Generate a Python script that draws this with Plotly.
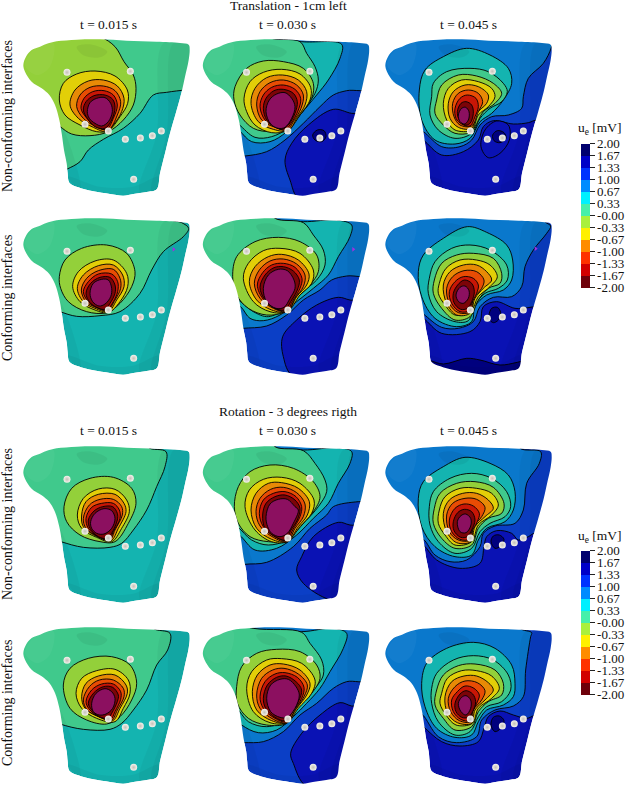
import plotly.graph_objects as go

# image layout
WIDTH = 630
HEIGHT = 789
COL_WINDOWS = [(15, 197), (197, 378), (378, 560)]
ROW_WINDOWS = [(30, 205), (205, 385), (440, 608), (608, 789)]
TORSO_DX = [0, 179.5, 362]
TORSO_DY = [0, 179, 407, 588]

# band colours seen on the torso surface, 0 = highest potential, 12 = below -2
SURFACE_COLORS = ["#00007e", "#0a12b4", "#0b3fc6", "#0a78cc", "#14b4b0", "#40c98c", "#93d03a",
                  "#e2cf08", "#e88a06", "#e84c04", "#c81606", "#7c0408", "#8c1060"]

# colour bar
BAR_COLORS = ["#6e000a", "#d20000", "#ff3200", "#ff8c00", "#fff000", "#aaf03c",
              "#46f0aa", "#00f0ff", "#008cff", "#0032ff", "#0000c8", "#00006e"]
BAR_TICKS = [2.0, 1.67, 1.33, 1.0, 0.67, 0.33, 0.0, -0.33, -0.67, -1.0, -1.33, -1.67, -2.0]
BAR_LABELS = ["2.00", "1.67", "1.33", "1.00", "0.67", "0.33", "-0.00",
              "-0.33", "-0.67", "-1.00", "-1.33", "-1.67", "-2.00"]

COL_TITLES = ["t = 0.015 s", "t = 0.030 s", "t = 0.045 s"]
ROW_TITLES = ["Non-conforming interfaces", "Conforming interfaces",
              "Non-conforming interfaces", "Conforming interfaces"]

TORSO = [(170, 124), (230, 119), (300, 118), (380, 122), (470, 125), (540, 129), (566, 134), (569, 150),
         (566, 180), (555, 230), (545, 275), (530, 330), (510, 400), (495, 460), (480, 520), (470, 568),
         (440, 576), (400, 582), (370, 587), (330, 582), (280, 574), (235, 562), (208, 548), (203, 520),
         (200, 490), (192, 450), (185, 400), (178, 360), (165, 315), (148, 285), (125, 265), (95, 245),
         (75, 215), (70, 195), (78, 170), (95, 150), (120, 140), (145, 130)]

ELECTRODE_X = [201, 391, 255, 325, 376, 421, 457, 484, 401]
ELECTRODE_Y = [217, 214, 373, 393, 418, 414, 407, 393, 538]

# soft light and dark patches on the body, stacked to fade out
SHADES = [
    ("rgba(0,0,0,0.035)", [(490, 130), (575, 130), (575, 300), (490, 580), (420, 578), (470, 400)]),
    ("rgba(0,0,0,0.035)", [(520, 130), (575, 130), (575, 300), (490, 580), (455, 578), (500, 400)]),
    ("rgba(0,0,0,0.04)", [(175, 360), (215, 450), (240, 575), (195, 550)]),
    ("rgba(0,0,0,0.05)", [(230, 140), (270, 133), (322, 155), (300, 172), (250, 166)]),
    ("rgba(0,0,0,0.04)", [(205, 530), (300, 560), (400, 560), (478, 530), (472, 575), (370, 592), (250, 575)]),
    ("rgba(255,255,255,0.04)", [(75, 195), (100, 150), (160, 128), (150, 200), (110, 225)]),
]

# contours per panel in zoomed image units: (band, outline)
NC_015_T = [
    (5, [(200, 508), (240, 485), (265, 450), (310, 418), (370, 385), (420, 340), (460, 285), (500, 277), (560, 270), (620, 270), (620, 90), (40, 90), (40, 400), (150, 530)]),
    (6, [(300, 110), (345, 140), (372, 185), (400, 225), (408, 265), (400, 315), (370, 360), (325, 395), (270, 407), (215, 402), (178, 378), (120, 330), (40, 300), (40, 90), (200, 90)]),
    (7, [(178, 300), (190, 250), (230, 222), (285, 213), (345, 228), (382, 270), (383, 310), (360, 350), (325, 392), (290, 395), (240, 375), (195, 345)]),
    (8, [(210, 315), (225, 270), (265, 243), (310, 240), (352, 258), (372, 295), (365, 335), (340, 375), (320, 395), (280, 382), (235, 355)]),
    (9, [(230, 320), (240, 285), (270, 262), (310, 258), (345, 272), (362, 305), (352, 345), (325, 390), (285, 378), (250, 355)]),
    (10, [(243, 325), (252, 295), (278, 275), (312, 272), (340, 285), (352, 315), (340, 355), (320, 388), (285, 378), (258, 352)]),
    (11, [(250, 330), (258, 305), (282, 287), (315, 285), (338, 298), (345, 322), (335, 360), (315, 385), (285, 380), (262, 355)]),
    (12, [(262, 335), (270, 308), (290, 295), (315, 293), (332, 310), (337, 335), (325, 365), (305, 378), (285, 370), (268, 355)]),
]
NC_030_T = [
    (1, [(300, 600), (270, 540), (255, 480), (275, 430), (325, 375), (400, 328), (455, 340), (520, 345), (520, 620)]),
    (0, [(338, 405), (352, 390), (372, 392), (378, 410), (365, 425), (345, 420)]),
    (3, [(100, 470), (135, 468), (200, 455), (255, 420), (310, 370), (360, 320), (400, 285), (440, 272), (520, 262), (540, 60), (-20, 60), (-20, 400)]),
    (4, [(205, 110), (305, 125), (425, 133), (420, 175), (385, 240), (350, 285), (300, 345), (260, 395), (210, 425), (155, 425), (118, 392), (60, 340), (-20, 300), (-20, 60), (200, 60)]),
    (5, [(205, 110), (300, 125), (320, 160), (345, 200), (355, 240), (345, 280), (300, 340), (262, 385), (215, 410), (165, 412), (115, 372), (60, 330), (-20, 300), (-20, 60), (200, 60)]),
    (6, [(105, 260), (140, 205), (190, 183), (250, 185), (310, 205), (340, 250), (335, 295), (300, 345), (265, 385), (215, 395), (160, 385), (120, 345), (102, 300)]),
    (7, [(132, 295), (150, 245), (190, 217), (245, 208), (300, 222), (332, 262), (330, 300), (300, 345), (265, 390), (215, 398), (165, 375), (140, 335)]),
    (8, [(153, 310), (165, 265), (200, 233), (248, 225), (295, 240), (320, 275), (315, 315), (290, 355), (265, 392), (220, 388), (175, 365)]),
    (9, [(170, 315), (180, 275), (210, 248), (250, 240), (290, 255), (310, 285), (303, 325), (280, 365), (262, 390), (220, 380), (185, 360)]),
    (10, [(180, 320), (190, 285), (215, 262), (250, 255), (285, 268), (302, 295), (295, 330), (272, 372), (255, 390), (222, 378), (195, 360)]),
    (11, [(190, 325), (198, 295), (222, 272), (250, 268), (280, 280), (292, 305), (285, 340), (265, 375), (245, 388), (222, 378), (200, 360)]),
    (12, [(198, 335), (208, 300), (230, 282), (255, 278), (275, 295), (285, 320), (275, 355), (255, 382), (235, 385), (212, 372)]),
]
NC_045_T = [
    (2, [(100, 400), (130, 420), (185, 465), (250, 455), (295, 420), (310, 380), (340, 362), (400, 372), (445, 368), (462, 362), (540, 340), (540, 60), (-20, 60), (-20, 380)]),
    (3, [(100, 380), (130, 395), (185, 440), (240, 440), (275, 420), (300, 375), (335, 350), (385, 345), (425, 325), (430, 290), (445, 235), (490, 190), (515, 140), (530, 60), (-20, 60), (-20, 360)]),
    (1, [(303, 440), (315, 390), (350, 363), (385, 375), (388, 420), (360, 460), (325, 473)]),
    (0, [(338, 405), (352, 392), (372, 398), (378, 415), (360, 428), (342, 422)]),
    (4, [(118, 270), (135, 210), (190, 170), (260, 145), (330, 165), (385, 205), (395, 250), (370, 300), (335, 340), (300, 365), (270, 415), (225, 432), (165, 420), (125, 360)]),
    (5, [(155, 290), (160, 250), (200, 215), (270, 205), (325, 215), (370, 250), (382, 275), (365, 305), (330, 325), (300, 355), (275, 400), (225, 415), (175, 390), (150, 345)]),
    (6, [(170, 300), (185, 255), (235, 225), (290, 228), (340, 250), (365, 280), (345, 310), (310, 335), (285, 380), (270, 398), (225, 400), (190, 375), (165, 340)]),
    (7, [(190, 310), (205, 265), (245, 240), (295, 245), (335, 265), (345, 290), (325, 320), (295, 345), (275, 390), (225, 390), (200, 360)]),
    (8, [(205, 310), (220, 275), (255, 255), (295, 260), (325, 285), (320, 310), (290, 340), (275, 385), (235, 382), (210, 355)]),
    (9, [(218, 310), (235, 280), (265, 270), (295, 280), (308, 305), (295, 335), (275, 378), (240, 375), (222, 350)]),
    (10, [(225, 325), (240, 295), (262, 285), (288, 295), (295, 320), (285, 350), (270, 378), (245, 372), (228, 355)]),
    (11, [(232, 335), (243, 310), (258, 305), (275, 315), (280, 340), (270, 370), (255, 375), (238, 360)]),
    (12, [(235, 345), (245, 325), (257, 322), (267, 335), (265, 360), (253, 372), (240, 365)]),
]
C_015_T = [
    (5, [(140, 320), (180, 335), (230, 349), (300, 347), (360, 335), (420, 280), (455, 210), (490, 155), (550, 110), (566, 85), (545, 68), (505, 55), (505, 20), (30, 20), (30, 200)]),
    (6, [(178, 230), (195, 180), (245, 145), (320, 135), (380, 160), (405, 215), (395, 260), (360, 310), (320, 338), (260, 335), (205, 305), (182, 265)]),
    (7, [(218, 260), (235, 215), (285, 183), (340, 180), (380, 220), (383, 260), (360, 305), (325, 338), (285, 330), (240, 305)]),
    (8, [(232, 265), (250, 225), (295, 197), (340, 195), (368, 225), (372, 260), (350, 300), (325, 335), (285, 325), (250, 305)]),
    (9, [(244, 270), (260, 235), (295, 212), (340, 208), (360, 235), (362, 265), (345, 300), (322, 332), (288, 322), (258, 305)]),
    (10, [(250, 275), (265, 245), (295, 222), (335, 222), (353, 245), (353, 275), (340, 305), (320, 330), (290, 322), (265, 305)]),
    (11, [(258, 280), (272, 250), (300, 232), (330, 232), (345, 255), (345, 280), (330, 310), (315, 328), (290, 322), (270, 308)]),
    (12, [(270, 280), (280, 250), (305, 238), (325, 240), (335, 265), (332, 290), (315, 312), (297, 318), (278, 305)]),
]
C_030_T = [
    (1, [(280, 530), (250, 470), (248, 410), (290, 360), (350, 315), (415, 292), (450, 300), (520, 310), (520, 560)]),
    (3, [(100, 390), (130, 385), (200, 378), (260, 345), (310, 300), (360, 270), (395, 240), (440, 228), (530, 222), (540, 20), (-20, 20), (-20, 300)]),
    (4, [(225, 55), (310, 65), (410, 60), (455, 75), (450, 110), (415, 170), (385, 225), (340, 265), (290, 305), (240, 345), (190, 362), (150, 355), (122, 320), (60, 280), (-20, 250), (-20, 20), (200, 20)]),
    (5, [(225, 55), (310, 68), (340, 105), (370, 150), (375, 195), (350, 240), (300, 280), (255, 325), (205, 350), (160, 335), (115, 300), (60, 270), (-20, 240), (-20, 20), (200, 20)]),
    (6, [(98, 230), (110, 170), (165, 125), (235, 112), (300, 125), (350, 165), (355, 215), (330, 255), (290, 295), (255, 335), (200, 345), (145, 325), (110, 285)]),
    (7, [(130, 235), (145, 190), (190, 152), (240, 145), (300, 160), (340, 210), (335, 250), (300, 285), (262, 335), (210, 335), (160, 305)]),
    (8, [(148, 245), (165, 200), (205, 170), (245, 163), (295, 180), (327, 222), (320, 255), (290, 290), (262, 335), (215, 330), (170, 300)]),
    (9, [(163, 250), (178, 210), (210, 183), (250, 177), (290, 192), (315, 225), (310, 260), (285, 295), (262, 335), (220, 325), (180, 295)]),
    (10, [(172, 255), (188, 218), (215, 195), (250, 190), (285, 202), (306, 235), (300, 265), (278, 302), (260, 333), (225, 325), (190, 298)]),
    (11, [(180, 262), (195, 225), (222, 203), (250, 200), (280, 213), (298, 240), (292, 270), (272, 305), (255, 330), (225, 325), (195, 300)]),
    (12, [(190, 265), (205, 225), (235, 208), (262, 212), (282, 240), (285, 265), (270, 295), (252, 322), (228, 325), (200, 305)]),
]
C_045_T = [
    (0, [(130, 480), (150, 482), (190, 492), (260, 475), (300, 480), (360, 495), (412, 487), (480, 470), (480, 560), (130, 560)]),
    (2, [(100, 340), (130, 355), (185, 400), (270, 395), (300, 365), (310, 320), (350, 305), (405, 325), (450, 322), (520, 300), (540, 60), (-20, 20), (-20, 300)]),
    (3, [(130, 342), (185, 382), (235, 385), (280, 365), (300, 320), (340, 292), (395, 290), (425, 260), (435, 200), (460, 150), (500, 100), (512, 78), (495, 65), (480, 20), (-20, 20), (-20, 300), (100, 320)]),
    (0, [(327, 345), (335, 325), (352, 322), (362, 338), (355, 360), (340, 368), (328, 358)]),
    (4, [(115, 215), (130, 165), (190, 115), (262, 80), (320, 97), (380, 135), (398, 180), (395, 240), (370, 270), (320, 285), (285, 320), (275, 365), (230, 380), (165, 355), (125, 290)]),
    (5, [(148, 235), (165, 185), (215, 145), (270, 135), (330, 150), (380, 195), (382, 240), (355, 265), (315, 280), (285, 315), (265, 362), (225, 365), (170, 335), (145, 280)]),
    (6, [(163, 240), (185, 190), (230, 165), (280, 160), (340, 175), (365, 220), (360, 250), (325, 265), (295, 300), (270, 350), (225, 360), (185, 325), (160, 280)]),
    (7, [(178, 250), (198, 205), (240, 180), (290, 180), (330, 195), (352, 230), (330, 260), (295, 290), (272, 335), (225, 345), (195, 315), (175, 280)]),
    (8, [(190, 255), (210, 215), (250, 195), (290, 195), (320, 215), (335, 240), (310, 265), (285, 295), (270, 340), (230, 345), (200, 310)]),
    (9, [(200, 265), (218, 230), (252, 212), (290, 215), (312, 240), (305, 265), (280, 295), (272, 335), (235, 338), (208, 310)]),
    (10, [(208, 275), (225, 245), (250, 230), (280, 235), (295, 255), (290, 280), (275, 310), (268, 332), (240, 335), (215, 310)]),
    (11, [(220, 280), (233, 255), (253, 240), (275, 250), (283, 275), (275, 305), (262, 325), (242, 328), (222, 308)]),
    (12, [(228, 285), (240, 262), (255, 258), (267, 272), (265, 295), (250, 310), (236, 305)]),
]
NC_015_R = [
    (5, [(140, 410), (183, 425), (250, 442), (330, 442), (365, 430), (400, 390), (440, 330), (470, 260), (495, 200), (498, 155), (445, 142), (445, 100), (30, 100), (30, 300)]),
    (6, [(192, 320), (215, 265), (270, 235), (340, 232), (395, 265), (408, 310), (385, 370), (345, 425), (300, 425), (240, 405), (200, 365)]),
    (7, [(232, 345), (250, 295), (295, 267), (345, 268), (380, 300), (388, 335), (365, 385), (335, 425), (290, 412), (245, 385)]),
    (8, [(245, 345), (258, 305), (295, 283), (345, 283), (372, 310), (378, 335), (355, 385), (333, 422), (292, 410), (250, 380)]),
    (9, [(250, 355), (268, 315), (300, 298), (340, 298), (365, 320), (367, 345), (345, 390), (330, 420), (295, 410), (258, 385)]),
    (10, [(258, 355), (275, 322), (305, 310), (340, 310), (358, 330), (360, 355), (340, 395), (328, 418), (295, 410), (265, 385)]),
    (11, [(265, 360), (282, 333), (308, 320), (338, 320), (352, 340), (352, 360), (335, 400), (322, 415), (295, 410), (270, 385)]),
    (12, [(272, 365), (285, 340), (312, 326), (335, 332), (345, 355), (335, 385), (312, 402), (290, 400), (275, 385)]),
]
NC_030_R = [
    (1, [(390, 600), (310, 550), (290, 510), (305, 470), (340, 410), (415, 367), (450, 375), (530, 385), (520, 620)]),
    (3, [(100, 500), (135, 493), (200, 487), (280, 440), (330, 385), (380, 345), (400, 320), (475, 305), (530, 305), (540, 100), (-20, 100), (-20, 400)]),
    (4, [(415, 143), (455, 155), (450, 190), (415, 250), (385, 310), (340, 355), (290, 405), (230, 445), (165, 450), (118, 405), (60, 370), (-20, 340), (-20, 100), (220, 100), (225, 140), (310, 150)]),
    (5, [(225, 140), (310, 152), (345, 190), (375, 240), (380, 275), (355, 320), (315, 365), (260, 420), (205, 435), (155, 420), (112, 380), (60, 350), (-20, 320), (-20, 100), (200, 100)]),
    (6, [(103, 320), (115, 260), (150, 215), (210, 195), (280, 205), (340, 245), (360, 290), (340, 335), (300, 375), (262, 420), (205, 425), (150, 410), (115, 370)]),
    (7, [(135, 320), (148, 270), (190, 238), (245, 232), (300, 250), (342, 300), (335, 340), (300, 380), (262, 425), (215, 425), (165, 390)]),
    (8, [(153, 330), (168, 280), (205, 250), (245, 248), (295, 265), (328, 305), (322, 345), (295, 380), (262, 425), (215, 418), (170, 385)]),
    (9, [(168, 335), (180, 295), (212, 268), (250, 262), (290, 278), (315, 312), (310, 350), (285, 385), (262, 425), (220, 412), (180, 378)]),
    (10, [(178, 340), (190, 300), (220, 280), (255, 275), (288, 290), (305, 320), (300, 350), (278, 390), (260, 422), (225, 410), (190, 380)]),
    (11, [(188, 345), (198, 310), (225, 290), (255, 285), (285, 300), (300, 325), (292, 360), (272, 392), (258, 420), (225, 410), (195, 385)]),
    (12, [(198, 350), (210, 312), (235, 298), (262, 298), (285, 320), (295, 330), (280, 370), (262, 400), (240, 410), (215, 400), (203, 380)]),
]
NC_045_R = [
    (2, [(100, 420), (130, 435), (170, 480), (240, 505), (300, 490), (312, 440), (320, 410), (350, 392), (395, 400), (415, 420), (445, 410), (462, 400), (530, 390), (540, 100), (-20, 100), (-20, 400)]),
    (3, [(100, 410), (130, 418), (165, 465), (210, 485), (260, 480), (300, 440), (310, 400), (345, 378), (405, 370), (430, 330), (440, 250), (478, 190), (482, 155), (420, 145), (400, 100), (-20, 100), (-20, 390)]),
    (0, [(333, 425), (340, 408), (358, 405), (372, 418), (362, 438), (345, 445)]),
    (4, [(115, 295), (130, 245), (190, 200), (255, 172), (330, 190), (385, 225), (405, 275), (400, 330), (375, 365), (320, 385), (295, 420), (275, 465), (225, 470), (165, 440), (125, 380)]),
    (5, [(148, 320), (160, 275), (210, 235), (275, 220), (335, 235), (380, 275), (392, 320), (375, 350), (330, 370), (300, 395), (275, 445), (225, 460), (175, 425), (150, 375)]),
    (6, [(163, 325), (180, 280), (230, 250), (285, 245), (340, 262), (372, 310), (365, 340), (325, 355), (295, 385), (275, 435), (225, 445), (185, 415), (160, 370)]),
    (7, [(178, 330), (195, 290), (240, 265), (290, 265), (335, 280), (355, 315), (335, 345), (295, 375), (275, 425), (225, 435), (195, 405), (175, 370)]),
    (8, [(190, 340), (208, 300), (248, 280), (290, 280), (325, 300), (340, 325), (315, 350), (285, 380), (272, 425), (230, 428), (200, 395)]),
    (9, [(200, 345), (218, 310), (255, 295), (290, 298), (315, 322), (305, 350), (280, 380), (272, 420), (235, 420), (208, 395)]),
    (10, [(208, 360), (225, 325), (252, 312), (280, 318), (298, 340), (292, 365), (275, 395), (268, 418), (240, 418), (215, 395)]),
    (11, [(220, 365), (233, 338), (253, 328), (275, 335), (285, 360), (275, 390), (262, 410), (242, 412), (222, 392)]),
    (12, [(232, 365), (243, 347), (257, 342), (272, 355), (272, 378), (258, 398), (240, 395)]),
]
C_015_R = [
    (5, [(140, 355), (180, 372), (250, 388), (330, 388), (365, 370), (400, 330), (440, 270), (470, 195), (503, 150), (510, 100), (460, 85), (440, 40), (30, 40), (30, 240)]),
    (6, [(190, 255), (210, 205), (265, 175), (335, 170), (390, 195), (410, 250), (395, 300), (360, 350), (320, 372), (260, 360), (210, 325)]),
    (7, [(228, 280), (245, 235), (290, 212), (345, 208), (385, 240), (390, 280), (370, 325), (345, 365), (290, 355), (245, 325)]),
    (8, [(245, 290), (258, 250), (295, 228), (345, 225), (378, 255), (382, 280), (360, 325), (338, 362), (295, 350), (255, 325)]),
    (9, [(250, 300), (268, 260), (298, 240), (340, 240), (370, 265), (372, 290), (352, 330), (335, 360), (298, 350), (262, 330)]),
    (10, [(258, 305), (275, 270), (305, 252), (340, 252), (362, 275), (362, 298), (345, 335), (332, 358), (298, 350), (270, 330)]),
    (11, [(265, 310), (280, 280), (310, 260), (338, 262), (355, 285), (352, 305), (335, 340), (325, 355), (298, 350), (275, 330)]),
    (12, [(275, 310), (288, 280), (315, 266), (335, 275), (345, 295), (338, 325), (318, 342), (298, 345), (280, 335)]),
]
C_030_R = [
    (1, [(920, 560), (880, 490), (872, 460), (905, 400), (960, 345), (1020, 308), (1055, 318), (1100, 320), (1100, 580)]),
    (3, [(700, 430), (733, 428), (790, 425), (850, 395), (900, 345), (950, 310), (1000, 265), (1040, 245), (1110, 238), (1120, 40), (580, 40), (580, 300)]),
    (4, [(1000, 85), (1040, 100), (1030, 145), (990, 215), (960, 265), (920, 310), (880, 350), (830, 390), (775, 398), (725, 375), (690, 340), (580, 280), (580, 40), (760, 40), (760, 85), (905, 95)]),
    (5, [(760, 85), (905, 97), (930, 130), (965, 180), (970, 225), (940, 270), (900, 310), (860, 360), (800, 380), (745, 365), (705, 320), (580, 260), (580, 40)]),
    (6, [(710, 260), (725, 200), (770, 160), (830, 148), (900, 155), (950, 195), (960, 235), (935, 280), (895, 320), (860, 370), (800, 375), (745, 355), (712, 310)]),
    (7, [(740, 265), (755, 215), (800, 180), (845, 176), (905, 190), (945, 240), (935, 280), (895, 325), (862, 368), (810, 368), (760, 335)]),
    (8, [(757, 275), (772, 225), (810, 195), (850, 192), (900, 210), (930, 250), (920, 285), (890, 325), (860, 368), (815, 362), (770, 330)]),
    (9, [(770, 285), (785, 235), (818, 210), (852, 205), (895, 222), (922, 255), (912, 290), (885, 330), (860, 368), (820, 358), (780, 325)]),
    (10, [(780, 290), (795, 245), (825, 222), (855, 218), (892, 232), (912, 262), (905, 295), (878, 335), (858, 365), (825, 355), (790, 325)]),
    (11, [(790, 295), (802, 255), (830, 232), (858, 228), (888, 245), (905, 270), (895, 305), (870, 340), (855, 362), (825, 352), (797, 325)]),
    (12, [(800, 295), (812, 255), (840, 238), (865, 238), (888, 260), (898, 285), (885, 325), (862, 352), (840, 352), (812, 335)]),
]
C_045_R = [
    (2, [(100, 355), (130, 380), (185, 425), (240, 438), (295, 425), (312, 385), (325, 350), (360, 333), (400, 345), (440, 355), (465, 345), (530, 320), (540, 40), (-20, 40), (-20, 320)]),
    (3, [(100, 335), (125, 342), (175, 410), (230, 428), (290, 410), (305, 360), (345, 330), (400, 318), (430, 290), (437, 210), (452, 110), (455, 98), (420, 85), (400, 40), (-20, 40), (-20, 300)]),
    (0, [(333, 375), (340, 352), (358, 348), (372, 362), (362, 385), (345, 395)]),
    (4, [(125, 250), (140, 190), (200, 145), (280, 127), (345, 145), (395, 195), (405, 250), (400, 290), (370, 315), (320, 330), (295, 365), (275, 405), (225, 412), (170, 385), (135, 320)]),
    (5, [(155, 265), (170, 220), (220, 180), (280, 167), (340, 180), (385, 225), (392, 270), (365, 305), (320, 320), (295, 350), (270, 395), (225, 405), (175, 365), (155, 310)]),
    (6, [(170, 270), (190, 225), (235, 197), (285, 192), (345, 210), (370, 250), (365, 285), (325, 305), (295, 335), (275, 380), (225, 390), (190, 355), (165, 315)]),
    (7, [(185, 280), (202, 235), (245, 212), (290, 212), (335, 228), (358, 265), (335, 295), (295, 325), (277, 370), (228, 375), (198, 345), (180, 310)]),
    (8, [(195, 290), (215, 245), (252, 228), (290, 228), (325, 248), (340, 270), (315, 300), (285, 330), (275, 370), (232, 368), (203, 340)]),
    (9, [(205, 295), (225, 260), (255, 243), (292, 248), (315, 272), (305, 300), (280, 330), (275, 365), (238, 362), (212, 335)]),
    (10, [(215, 300), (232, 275), (255, 258), (282, 265), (298, 285), (290, 310), (275, 340), (270, 362), (242, 358), (220, 335)]),
    (11, [(225, 310), (240, 282), (258, 272), (278, 282), (287, 305), (278, 335), (265, 352), (245, 352), (228, 335)]),
    (12, [(235, 310), (245, 292), (258, 287), (272, 300), (272, 325), (258, 345), (243, 335)]),
]

# (row, col, crop origin x, crop origin y, base band, contours)
PANELS = [
    (0, 0, 0, 0, 4, NC_015_T), (0, 1, 200, 0, 2, NC_030_T), (0, 2, 380, 0, 1, NC_045_T),
    (1, 0, 0, 200, 4, C_015_T), (1, 1, 200, 200, 2, C_030_T), (1, 2, 380, 200, 1, C_045_T),
    (2, 0, 0, 400, 4, NC_015_R), (2, 1, 200, 400, 2, NC_030_R), (2, 2, 380, 400, 1, NC_045_R),
    (3, 0, 0, 600, 4, C_015_R), (3, 1, 0, 600, 2, C_030_R), (3, 2, 380, 600, 1, C_045_R),
]

# small purple glitch marks in the second row
GLITCH_X = [521, 460, 467]
GLITCH_Y = [148, 148, 146]


def closed(points):
    return [p[0] for p in points] + [points[0][0]], [p[1] for p in points] + [points[0][1]]


fig = go.Figure()
layout_axes = {}

for i, (row, col, ox, oy, base, contours) in enumerate(PANELS, start=1):
    wx0, wx1 = COL_WINDOWS[col]
    wy0, wy1 = ROW_WINDOWS[row]
    layout_axes[f"xaxis{i}"] = dict(domain=[wx0 / WIDTH, wx1 / WIDTH], range=[(wx0 - ox) * 3, (wx1 - ox) * 3],
                                    anchor=f"y{i}", visible=False)
    layout_axes[f"yaxis{i}"] = dict(domain=[1 - wy1 / HEIGHT, 1 - wy0 / HEIGHT], range=[(wy1 - oy) * 3, (wy0 - oy) * 3],
                                    anchor=f"x{i}", visible=False)
    refs = dict(xaxis=f"x{i}", yaxis=f"y{i}", showlegend=False, hoverinfo="skip")

    # torso position in this panel's units
    sx = (TORSO_DX[col] - ox) * 3
    sy = (TORSO_DY[row] - oy) * 3
    torso_pts = [(x + sx, y + sy) for x, y in TORSO]

    tx, ty = closed(torso_pts)
    fig.add_trace(go.Scatter(x=tx, y=ty, mode="lines", fill="toself", fillcolor=SURFACE_COLORS[base],
                             line=dict(width=0, shape="spline"), **refs))

    for band, outline in contours:
        x, y = closed(outline)
        fig.add_trace(go.Scatter(x=x, y=y, mode="lines", fill="toself", fillcolor=SURFACE_COLORS[band],
                                 line=dict(color="black", width=0.9, shape="spline"), **refs))

    for shade, outline in SHADES:
        x, y = closed([(a + sx, b + sy) for a, b in outline])
        fig.add_trace(go.Scatter(x=x, y=y, mode="lines", fill="toself", fillcolor=shade,
                                 line=dict(width=0, shape="spline"), **refs))

    # white cover around the torso, hides what the contours spill over
    left, right = (wx0 - ox) * 3 - 300, (wx1 - ox) * 3 + 300
    top, bottom = (wy0 - oy) * 3 - 300, (wy1 - oy) * 3 + 300
    cover_x = [left, right, right, left, left, None] + tx[::-1]
    cover_y = [top, top, bottom, bottom, top, None] + ty[::-1]
    fig.add_trace(go.Scatter(x=cover_x, y=cover_y, mode="lines", fill="toself", fillcolor="white",
                             line=dict(width=0, shape="spline"), **refs))

    if row == 1:
        fig.add_trace(go.Scatter(x=[GLITCH_X[col]], y=[GLITCH_Y[col]], mode="markers",
                                 marker=dict(symbol="triangle-right", size=4, color="#a030e0"), **refs))

    fig.add_trace(go.Scatter(x=[v + sx for v in ELECTRODE_X], y=[v + sy for v in ELECTRODE_Y], mode="markers",
                             marker=dict(size=7, color="#f4f2ec", line=dict(width=0),
                                         gradient=dict(type="radial", color="#c4c0b8")), **refs))

# stepped colour bars
scale = []
for k, c in enumerate(BAR_COLORS):
    scale += [[k / 12, c], [(k + 1) / 12, c]]
for bar_top in [143.5, 550.5]:
    fig.add_trace(go.Scatter(
        x=[None], y=[None], mode="markers", showlegend=False, xaxis="x1", yaxis="y1",
        marker=dict(color=[-2, 2], cmin=-2, cmax=2, colorscale=scale, showscale=True,
                    colorbar=dict(x=581 / WIDTH, xanchor="left", xpad=0, ypad=0, y=1 - bar_top / HEIGHT, yanchor="top",
                                  lenmode="pixels", len=143.5, thicknessmode="pixels", thickness=8.5,
                                  outlinewidth=0, tickmode="array", tickvals=BAR_TICKS, ticktext=BAR_LABELS,
                                  ticks="outside", ticklen=5, tickwidth=0.7, tickcolor="#222",
                                  tickfont=dict(family="Liberation Serif", size=13, color="#111"))),
    ))

annotations = []


def add_text(text, x, y, size, angle=0):
    annotations.append(dict(text=text, x=x / WIDTH, y=1 - y / HEIGHT, xref="paper", yref="paper", showarrow=False,
                            xanchor="center", yanchor="middle", textangle=angle,
                            font=dict(family="Liberation Serif", size=size, color="#111")))


add_text("Translation - 1cm left", 288, 6, 13.5)
add_text("Rotation - 3 degrees rigth", 288, 412, 13.5)
for y in [24, 430]:
    for x, title in zip([108, 287, 468], COL_TITLES):
        add_text(title, x, y, 13.5)
for y, title in zip([116, 298, 524, 703], ROW_TITLES):
    add_text(title, 7, y, 14, angle=-90)
for y in [129, 536]:
    add_text("u<sub>e</sub> [mV]", 600, y, 13.5)

fig.update_layout(width=WIDTH, height=HEIGHT, margin=dict(l=0, r=0, t=0, b=0), autosize=False,
                  paper_bgcolor="white", plot_bgcolor="white", annotations=annotations, **layout_axes)

fig.write_html("out.html", config={"displayModeBar": False}, post_script="document.body.style.margin='0';")
